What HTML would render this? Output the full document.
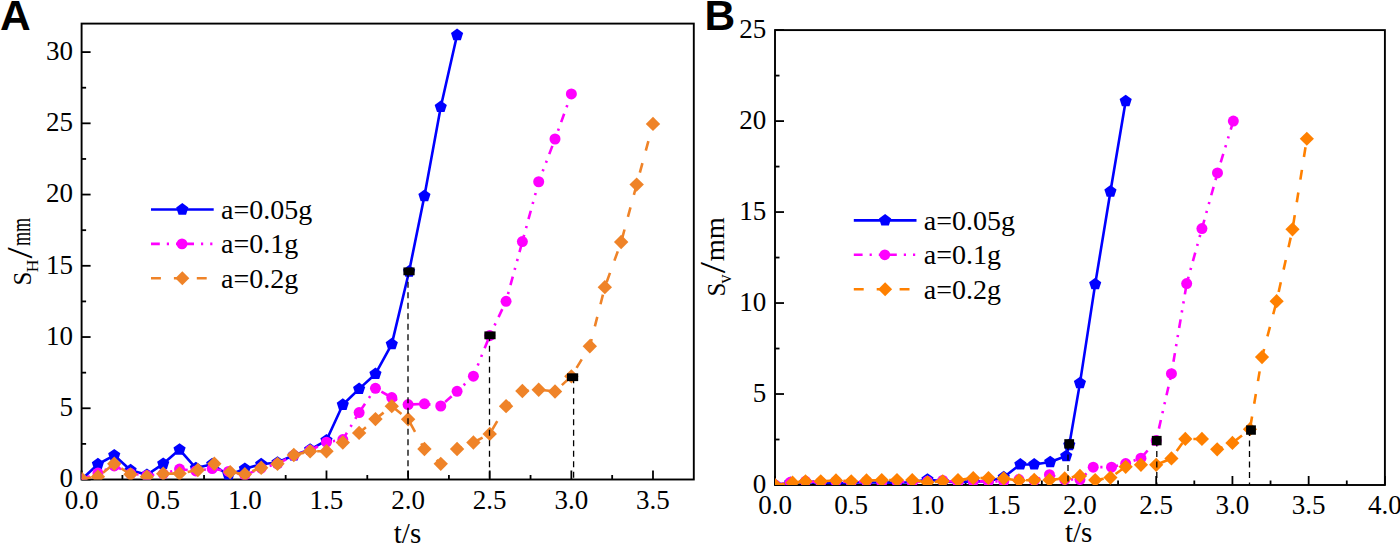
<!DOCTYPE html>
<html><head><meta charset="utf-8"><style>
html,body{margin:0;padding:0;background:#fff;width:1400px;height:543px;overflow:hidden}
svg{display:block}
.tk{font-family:"Liberation Serif",serif;font-size:27px;fill:#000}
.lg{font-family:"Liberation Serif",serif;font-size:28px;fill:#000}
.ti{font-family:"Liberation Serif",serif;font-size:29px;fill:#000}
.pl{font-family:"Liberation Sans",sans-serif;font-weight:bold;font-size:42.5px;fill:#000}
</style></head><body>
<svg width="1400" height="543" viewBox="0 0 1400 543">
<rect width="1400" height="543" fill="#fff"/>
<line x1="81.60" y1="479.5" x2="81.60" y2="470.5" stroke="#000" stroke-width="1.8"/>
<line x1="163.23" y1="479.5" x2="163.23" y2="470.5" stroke="#000" stroke-width="1.8"/>
<line x1="244.85" y1="479.5" x2="244.85" y2="470.5" stroke="#000" stroke-width="1.8"/>
<line x1="326.48" y1="479.5" x2="326.48" y2="470.5" stroke="#000" stroke-width="1.8"/>
<line x1="408.11" y1="479.5" x2="408.11" y2="470.5" stroke="#000" stroke-width="1.8"/>
<line x1="489.73" y1="479.5" x2="489.73" y2="470.5" stroke="#000" stroke-width="1.8"/>
<line x1="571.36" y1="479.5" x2="571.36" y2="470.5" stroke="#000" stroke-width="1.8"/>
<line x1="652.99" y1="479.5" x2="652.99" y2="470.5" stroke="#000" stroke-width="1.8"/>
<line x1="122.41" y1="479.5" x2="122.41" y2="475.0" stroke="#000" stroke-width="1.8"/>
<line x1="204.04" y1="479.5" x2="204.04" y2="475.0" stroke="#000" stroke-width="1.8"/>
<line x1="285.67" y1="479.5" x2="285.67" y2="475.0" stroke="#000" stroke-width="1.8"/>
<line x1="367.29" y1="479.5" x2="367.29" y2="475.0" stroke="#000" stroke-width="1.8"/>
<line x1="448.92" y1="479.5" x2="448.92" y2="475.0" stroke="#000" stroke-width="1.8"/>
<line x1="530.55" y1="479.5" x2="530.55" y2="475.0" stroke="#000" stroke-width="1.8"/>
<line x1="612.17" y1="479.5" x2="612.17" y2="475.0" stroke="#000" stroke-width="1.8"/>
<line x1="81.6" y1="479.50" x2="90.6" y2="479.50" stroke="#000" stroke-width="1.8"/>
<line x1="81.6" y1="408.27" x2="90.6" y2="408.27" stroke="#000" stroke-width="1.8"/>
<line x1="81.6" y1="337.03" x2="90.6" y2="337.03" stroke="#000" stroke-width="1.8"/>
<line x1="81.6" y1="265.80" x2="90.6" y2="265.80" stroke="#000" stroke-width="1.8"/>
<line x1="81.6" y1="194.56" x2="90.6" y2="194.56" stroke="#000" stroke-width="1.8"/>
<line x1="81.6" y1="123.33" x2="90.6" y2="123.33" stroke="#000" stroke-width="1.8"/>
<line x1="81.6" y1="52.09" x2="90.6" y2="52.09" stroke="#000" stroke-width="1.8"/>
<line x1="81.6" y1="443.88" x2="86.1" y2="443.88" stroke="#000" stroke-width="1.8"/>
<line x1="81.6" y1="372.65" x2="86.1" y2="372.65" stroke="#000" stroke-width="1.8"/>
<line x1="81.6" y1="301.41" x2="86.1" y2="301.41" stroke="#000" stroke-width="1.8"/>
<line x1="81.6" y1="230.18" x2="86.1" y2="230.18" stroke="#000" stroke-width="1.8"/>
<line x1="81.6" y1="158.95" x2="86.1" y2="158.95" stroke="#000" stroke-width="1.8"/>
<line x1="81.6" y1="87.71" x2="86.1" y2="87.71" stroke="#000" stroke-width="1.8"/>
<text x="81.60" y="508.70" text-anchor="middle" class="tk">0.0</text>
<text x="163.23" y="508.70" text-anchor="middle" class="tk">0.5</text>
<text x="244.85" y="508.70" text-anchor="middle" class="tk">1.0</text>
<text x="326.48" y="508.70" text-anchor="middle" class="tk">1.5</text>
<text x="408.11" y="508.70" text-anchor="middle" class="tk">2.0</text>
<text x="489.73" y="508.70" text-anchor="middle" class="tk">2.5</text>
<text x="571.36" y="508.70" text-anchor="middle" class="tk">3.0</text>
<text x="652.99" y="508.70" text-anchor="middle" class="tk">3.5</text>
<text x="72.90" y="487.30" text-anchor="end" class="tk">0</text>
<text x="72.90" y="416.07" text-anchor="end" class="tk">5</text>
<text x="72.90" y="344.83" text-anchor="end" class="tk">10</text>
<text x="72.90" y="273.60" text-anchor="end" class="tk">15</text>
<text x="72.90" y="202.36" text-anchor="end" class="tk">20</text>
<text x="72.90" y="131.13" text-anchor="end" class="tk">25</text>
<text x="72.90" y="59.89" text-anchor="end" class="tk">30</text>
<line x1="775.00" y1="485.0" x2="775.00" y2="476.0" stroke="#000" stroke-width="1.8"/>
<line x1="851.24" y1="485.0" x2="851.24" y2="476.0" stroke="#000" stroke-width="1.8"/>
<line x1="927.48" y1="485.0" x2="927.48" y2="476.0" stroke="#000" stroke-width="1.8"/>
<line x1="1003.71" y1="485.0" x2="1003.71" y2="476.0" stroke="#000" stroke-width="1.8"/>
<line x1="1079.95" y1="485.0" x2="1079.95" y2="476.0" stroke="#000" stroke-width="1.8"/>
<line x1="1156.19" y1="485.0" x2="1156.19" y2="476.0" stroke="#000" stroke-width="1.8"/>
<line x1="1232.43" y1="485.0" x2="1232.43" y2="476.0" stroke="#000" stroke-width="1.8"/>
<line x1="1308.66" y1="485.0" x2="1308.66" y2="476.0" stroke="#000" stroke-width="1.8"/>
<line x1="1384.90" y1="485.0" x2="1384.90" y2="476.0" stroke="#000" stroke-width="1.8"/>
<line x1="813.12" y1="485.0" x2="813.12" y2="480.5" stroke="#000" stroke-width="1.8"/>
<line x1="889.36" y1="485.0" x2="889.36" y2="480.5" stroke="#000" stroke-width="1.8"/>
<line x1="965.59" y1="485.0" x2="965.59" y2="480.5" stroke="#000" stroke-width="1.8"/>
<line x1="1041.83" y1="485.0" x2="1041.83" y2="480.5" stroke="#000" stroke-width="1.8"/>
<line x1="1118.07" y1="485.0" x2="1118.07" y2="480.5" stroke="#000" stroke-width="1.8"/>
<line x1="1194.31" y1="485.0" x2="1194.31" y2="480.5" stroke="#000" stroke-width="1.8"/>
<line x1="1270.54" y1="485.0" x2="1270.54" y2="480.5" stroke="#000" stroke-width="1.8"/>
<line x1="1346.78" y1="485.0" x2="1346.78" y2="480.5" stroke="#000" stroke-width="1.8"/>
<line x1="775.0" y1="485.00" x2="784.0" y2="485.00" stroke="#000" stroke-width="1.8"/>
<line x1="775.0" y1="394.02" x2="784.0" y2="394.02" stroke="#000" stroke-width="1.8"/>
<line x1="775.0" y1="303.04" x2="784.0" y2="303.04" stroke="#000" stroke-width="1.8"/>
<line x1="775.0" y1="212.06" x2="784.0" y2="212.06" stroke="#000" stroke-width="1.8"/>
<line x1="775.0" y1="121.08" x2="784.0" y2="121.08" stroke="#000" stroke-width="1.8"/>
<line x1="775.0" y1="30.10" x2="784.0" y2="30.10" stroke="#000" stroke-width="1.8"/>
<line x1="775.0" y1="439.51" x2="779.5" y2="439.51" stroke="#000" stroke-width="1.8"/>
<line x1="775.0" y1="348.53" x2="779.5" y2="348.53" stroke="#000" stroke-width="1.8"/>
<line x1="775.0" y1="257.55" x2="779.5" y2="257.55" stroke="#000" stroke-width="1.8"/>
<line x1="775.0" y1="166.57" x2="779.5" y2="166.57" stroke="#000" stroke-width="1.8"/>
<line x1="775.0" y1="75.59" x2="779.5" y2="75.59" stroke="#000" stroke-width="1.8"/>
<text x="775.00" y="514.20" text-anchor="middle" class="tk">0.0</text>
<text x="851.24" y="514.20" text-anchor="middle" class="tk">0.5</text>
<text x="927.48" y="514.20" text-anchor="middle" class="tk">1.0</text>
<text x="1003.71" y="514.20" text-anchor="middle" class="tk">1.5</text>
<text x="1079.95" y="514.20" text-anchor="middle" class="tk">2.0</text>
<text x="1156.19" y="514.20" text-anchor="middle" class="tk">2.5</text>
<text x="1232.43" y="514.20" text-anchor="middle" class="tk">3.0</text>
<text x="1308.66" y="514.20" text-anchor="middle" class="tk">3.5</text>
<text x="1384.90" y="514.20" text-anchor="middle" class="tk">4.0</text>
<text x="766.30" y="492.80" text-anchor="end" class="tk">0</text>
<text x="766.30" y="401.82" text-anchor="end" class="tk">5</text>
<text x="766.30" y="310.84" text-anchor="end" class="tk">10</text>
<text x="766.30" y="219.86" text-anchor="end" class="tk">15</text>
<text x="766.30" y="128.88" text-anchor="end" class="tk">20</text>
<text x="766.30" y="37.90" text-anchor="end" class="tk">25</text>
<rect x="81.6" y="23.6" width="612.20" height="455.90" fill="none" stroke="#000" stroke-width="1.9"/>
<clipPath id="clipA"><rect x="81.6" y="23.6" width="612.1999999999999" height="455.9"/></clipPath>
<g clip-path="url(#clipA)">
<polyline points="81.60,479.50 97.93,464.26 114.25,455.28 130.58,470.24 146.90,474.80 163.23,463.83 179.55,449.58 195.88,468.10 212.20,464.26 228.53,475.23 244.85,468.81 261.18,464.26 277.50,462.55 293.83,455.28 310.15,449.58 326.48,440.32 342.81,404.70 359.13,388.89 375.46,373.93 391.78,344.15 409.09,271.50 424.43,195.99 440.76,106.94 457.08,35.00" fill="none" stroke="#0000ff" stroke-width="2.6" stroke-linejoin="round"/>
<polygon points="81.60,473.10 87.69,477.52 85.36,484.68 77.84,484.68 75.51,477.52" fill="#0000ff"/>
<polygon points="97.93,457.86 104.01,462.28 101.69,469.43 94.16,469.43 91.84,462.28" fill="#0000ff"/>
<polygon points="114.25,448.88 120.34,453.30 118.01,460.46 110.49,460.46 108.16,453.30" fill="#0000ff"/>
<polygon points="130.58,463.84 136.66,468.26 134.34,475.42 126.81,475.42 124.49,468.26" fill="#0000ff"/>
<polygon points="146.90,468.40 152.99,472.82 150.66,479.98 143.14,479.98 140.81,472.82" fill="#0000ff"/>
<polygon points="163.23,457.43 169.31,461.85 166.99,469.01 159.46,469.01 157.14,461.85" fill="#0000ff"/>
<polygon points="179.55,443.18 185.64,447.60 183.31,454.76 175.79,454.76 173.47,447.60" fill="#0000ff"/>
<polygon points="195.88,461.70 201.96,466.12 199.64,473.28 192.12,473.28 189.79,466.12" fill="#0000ff"/>
<polygon points="212.20,457.86 218.29,462.28 215.96,469.43 208.44,469.43 206.12,462.28" fill="#0000ff"/>
<polygon points="228.53,468.83 234.61,473.25 232.29,480.40 224.77,480.40 222.44,473.25" fill="#0000ff"/>
<polygon points="244.85,462.41 250.94,466.84 248.62,473.99 241.09,473.99 238.77,466.84" fill="#0000ff"/>
<polygon points="261.18,457.86 267.27,462.28 264.94,469.43 257.42,469.43 255.09,462.28" fill="#0000ff"/>
<polygon points="277.50,456.15 283.59,460.57 281.27,467.72 273.74,467.72 271.42,460.57" fill="#0000ff"/>
<polygon points="293.83,448.88 299.92,453.30 297.59,460.46 290.07,460.46 287.74,453.30" fill="#0000ff"/>
<polygon points="310.15,443.18 316.24,447.60 313.92,454.76 306.39,454.76 304.07,447.60" fill="#0000ff"/>
<polygon points="326.48,433.92 332.57,438.34 330.24,445.50 322.72,445.50 320.39,438.34" fill="#0000ff"/>
<polygon points="342.81,398.30 348.89,402.73 346.57,409.88 339.04,409.88 336.72,402.73" fill="#0000ff"/>
<polygon points="359.13,382.49 365.22,386.91 362.89,394.07 355.37,394.07 353.04,386.91" fill="#0000ff"/>
<polygon points="375.46,367.53 381.54,371.95 379.22,379.11 371.69,379.11 369.37,371.95" fill="#0000ff"/>
<polygon points="391.78,337.75 397.87,342.18 395.54,349.33 388.02,349.33 385.69,342.18" fill="#0000ff"/>
<polygon points="409.09,265.10 415.17,269.52 412.85,276.67 405.32,276.67 403.00,269.52" fill="#0000ff"/>
<polygon points="424.43,189.59 430.52,194.01 428.19,201.16 420.67,201.16 418.35,194.01" fill="#0000ff"/>
<polygon points="440.76,100.54 446.84,104.97 444.52,112.12 437.00,112.12 434.67,104.97" fill="#0000ff"/>
<polygon points="457.08,28.60 463.17,33.02 460.84,40.18 453.32,40.18 451.00,33.02" fill="#0000ff"/>
<polyline points="81.60,479.50 97.93,473.09 114.25,465.97 130.58,473.52 146.90,475.51 163.23,473.80 179.55,469.10 195.88,470.95 212.20,468.53 228.53,471.38 244.85,475.23 261.18,468.10 277.50,463.83 293.83,455.28 310.15,450.29 326.48,442.17 342.81,439.61 359.13,412.54 375.46,388.32 391.78,397.58 408.11,404.56 424.43,403.85 440.76,405.99 457.08,391.31 473.41,376.21 489.73,335.61 506.06,301.27 522.38,241.58 538.71,181.74 555.03,139.00 571.36,93.98" fill="none" stroke="#ff00ff" stroke-width="2.6" stroke-dasharray="8.8 7 2.2 7 2.2 7"/>
<circle cx="81.60" cy="479.50" r="5.5" fill="#ff00ff"/>
<circle cx="97.93" cy="473.09" r="5.5" fill="#ff00ff"/>
<circle cx="114.25" cy="465.97" r="5.5" fill="#ff00ff"/>
<circle cx="130.58" cy="473.52" r="5.5" fill="#ff00ff"/>
<circle cx="146.90" cy="475.51" r="5.5" fill="#ff00ff"/>
<circle cx="163.23" cy="473.80" r="5.5" fill="#ff00ff"/>
<circle cx="179.55" cy="469.10" r="5.5" fill="#ff00ff"/>
<circle cx="195.88" cy="470.95" r="5.5" fill="#ff00ff"/>
<circle cx="212.20" cy="468.53" r="5.5" fill="#ff00ff"/>
<circle cx="228.53" cy="471.38" r="5.5" fill="#ff00ff"/>
<circle cx="244.85" cy="475.23" r="5.5" fill="#ff00ff"/>
<circle cx="261.18" cy="468.10" r="5.5" fill="#ff00ff"/>
<circle cx="277.50" cy="463.83" r="5.5" fill="#ff00ff"/>
<circle cx="293.83" cy="455.28" r="5.5" fill="#ff00ff"/>
<circle cx="310.15" cy="450.29" r="5.5" fill="#ff00ff"/>
<circle cx="326.48" cy="442.17" r="5.5" fill="#ff00ff"/>
<circle cx="342.81" cy="439.61" r="5.5" fill="#ff00ff"/>
<circle cx="359.13" cy="412.54" r="5.5" fill="#ff00ff"/>
<circle cx="375.46" cy="388.32" r="5.5" fill="#ff00ff"/>
<circle cx="391.78" cy="397.58" r="5.5" fill="#ff00ff"/>
<circle cx="408.11" cy="404.56" r="5.5" fill="#ff00ff"/>
<circle cx="424.43" cy="403.85" r="5.5" fill="#ff00ff"/>
<circle cx="440.76" cy="405.99" r="5.5" fill="#ff00ff"/>
<circle cx="457.08" cy="391.31" r="5.5" fill="#ff00ff"/>
<circle cx="473.41" cy="376.21" r="5.5" fill="#ff00ff"/>
<circle cx="489.73" cy="335.61" r="5.5" fill="#ff00ff"/>
<circle cx="506.06" cy="301.27" r="5.5" fill="#ff00ff"/>
<circle cx="522.38" cy="241.58" r="5.5" fill="#ff00ff"/>
<circle cx="538.71" cy="181.74" r="5.5" fill="#ff00ff"/>
<circle cx="555.03" cy="139.00" r="5.5" fill="#ff00ff"/>
<circle cx="571.36" cy="93.98" r="5.5" fill="#ff00ff"/>
<polyline points="81.60,478.79 97.93,476.65 114.25,463.69 130.58,474.37 146.90,476.65 163.23,473.80 179.55,473.52 197.84,469.95 214.32,463.69 230.16,472.09 244.85,474.23 261.18,467.68 277.50,463.83 293.83,455.00 310.15,451.29 326.48,451.29 342.81,442.46 359.13,432.91 375.46,419.09 391.78,406.13 408.11,419.24 424.43,449.01 440.76,463.83 457.08,449.01 473.41,442.46 489.73,433.91 506.06,406.13 522.38,391.03 538.71,389.74 555.03,391.45 571.36,376.35 589.81,346.29 604.83,287.17 621.15,242.00 636.66,184.59 652.99,123.90" fill="none" stroke="#ef8328" stroke-width="2.6" stroke-dasharray="9.9 13"/>
<polygon points="81.60,471.59 88.80,478.79 81.60,485.99 74.40,478.79" fill="#ef8328"/>
<polygon points="97.93,469.45 105.13,476.65 97.93,483.85 90.73,476.65" fill="#ef8328"/>
<polygon points="114.25,456.49 121.45,463.69 114.25,470.89 107.05,463.69" fill="#ef8328"/>
<polygon points="130.58,467.17 137.78,474.37 130.58,481.57 123.38,474.37" fill="#ef8328"/>
<polygon points="146.90,469.45 154.10,476.65 146.90,483.85 139.70,476.65" fill="#ef8328"/>
<polygon points="163.23,466.60 170.43,473.80 163.23,481.00 156.03,473.80" fill="#ef8328"/>
<polygon points="179.55,466.32 186.75,473.52 179.55,480.72 172.35,473.52" fill="#ef8328"/>
<polygon points="197.84,462.75 205.04,469.95 197.84,477.15 190.64,469.95" fill="#ef8328"/>
<polygon points="214.32,456.49 221.52,463.69 214.32,470.89 207.12,463.69" fill="#ef8328"/>
<polygon points="230.16,464.89 237.36,472.09 230.16,479.29 222.96,472.09" fill="#ef8328"/>
<polygon points="244.85,467.03 252.05,474.23 244.85,481.43 237.65,474.23" fill="#ef8328"/>
<polygon points="261.18,460.48 268.38,467.68 261.18,474.88 253.98,467.68" fill="#ef8328"/>
<polygon points="277.50,456.63 284.70,463.83 277.50,471.03 270.30,463.83" fill="#ef8328"/>
<polygon points="293.83,447.80 301.03,455.00 293.83,462.20 286.63,455.00" fill="#ef8328"/>
<polygon points="310.15,444.09 317.35,451.29 310.15,458.49 302.95,451.29" fill="#ef8328"/>
<polygon points="326.48,444.09 333.68,451.29 326.48,458.49 319.28,451.29" fill="#ef8328"/>
<polygon points="342.81,435.26 350.01,442.46 342.81,449.66 335.61,442.46" fill="#ef8328"/>
<polygon points="359.13,425.71 366.33,432.91 359.13,440.11 351.93,432.91" fill="#ef8328"/>
<polygon points="375.46,411.89 382.66,419.09 375.46,426.29 368.26,419.09" fill="#ef8328"/>
<polygon points="391.78,398.93 398.98,406.13 391.78,413.33 384.58,406.13" fill="#ef8328"/>
<polygon points="408.11,412.04 415.31,419.24 408.11,426.44 400.91,419.24" fill="#ef8328"/>
<polygon points="424.43,441.81 431.63,449.01 424.43,456.21 417.23,449.01" fill="#ef8328"/>
<polygon points="440.76,456.63 447.96,463.83 440.76,471.03 433.56,463.83" fill="#ef8328"/>
<polygon points="457.08,441.81 464.28,449.01 457.08,456.21 449.88,449.01" fill="#ef8328"/>
<polygon points="473.41,435.26 480.61,442.46 473.41,449.66 466.21,442.46" fill="#ef8328"/>
<polygon points="489.73,426.71 496.93,433.91 489.73,441.11 482.53,433.91" fill="#ef8328"/>
<polygon points="506.06,398.93 513.26,406.13 506.06,413.33 498.86,406.13" fill="#ef8328"/>
<polygon points="522.38,383.83 529.58,391.03 522.38,398.23 515.18,391.03" fill="#ef8328"/>
<polygon points="538.71,382.54 545.91,389.74 538.71,396.94 531.51,389.74" fill="#ef8328"/>
<polygon points="555.03,384.25 562.23,391.45 555.03,398.65 547.83,391.45" fill="#ef8328"/>
<polygon points="571.36,369.15 578.56,376.35 571.36,383.55 564.16,376.35" fill="#ef8328"/>
<polygon points="589.81,339.09 597.01,346.29 589.81,353.49 582.61,346.29" fill="#ef8328"/>
<polygon points="604.83,279.97 612.03,287.17 604.83,294.37 597.63,287.17" fill="#ef8328"/>
<polygon points="621.15,234.80 628.35,242.00 621.15,249.20 613.95,242.00" fill="#ef8328"/>
<polygon points="636.66,177.39 643.86,184.59 636.66,191.79 629.46,184.59" fill="#ef8328"/>
<polygon points="652.99,116.70 660.19,123.90 652.99,131.10 645.79,123.90" fill="#ef8328"/>
<line x1="408.0" y1="271.35" x2="408.0" y2="479.5" stroke="#000" stroke-width="1.3" stroke-dasharray="6 4.5"/>
<line x1="489.5" y1="335.32" x2="489.5" y2="479.5" stroke="#000" stroke-width="1.3" stroke-dasharray="6 4.5"/>
<line x1="573.6" y1="377.21" x2="573.6" y2="479.5" stroke="#000" stroke-width="1.3" stroke-dasharray="6 4.5"/>
<rect x="403.40" y="267.45" width="11.2" height="7.8" fill="#000"/>
<rect x="484.39" y="331.42" width="11.2" height="7.8" fill="#000"/>
<rect x="566.98" y="373.31" width="11.2" height="7.8" fill="#000"/>
</g>
<rect x="775.0" y="30.1" width="609.90" height="454.90" fill="none" stroke="#000" stroke-width="1.9"/>
<clipPath id="clipB"><rect x="775.0" y="30.1" width="609.9000000000001" height="454.9"/></clipPath>
<g clip-path="url(#clipB)">
<polyline points="775.00,485.00 790.25,482.82 805.50,482.27 820.74,482.82 835.99,483.18 851.24,482.82 866.49,482.27 881.73,482.82 896.98,482.82 912.23,482.27 927.48,479.54 942.72,481.36 957.97,482.27 973.22,481.36 988.47,481.36 1003.71,477.18 1020.33,464.44 1034.21,464.44 1050.22,462.07 1066.23,456.07 1069.28,444.97 1079.95,383.10 1095.20,284.12 1110.45,191.50 1125.69,101.06" fill="none" stroke="#0000ff" stroke-width="2.6" stroke-linejoin="round"/>
<polygon points="775.00,478.60 781.09,483.02 778.76,490.18 771.24,490.18 768.91,483.02" fill="#0000ff"/>
<polygon points="790.25,476.42 796.33,480.84 794.01,487.99 786.49,487.99 784.16,480.84" fill="#0000ff"/>
<polygon points="805.50,475.87 811.58,480.29 809.26,487.45 801.73,487.45 799.41,480.29" fill="#0000ff"/>
<polygon points="820.74,476.42 826.83,480.84 824.50,487.99 816.98,487.99 814.66,480.84" fill="#0000ff"/>
<polygon points="835.99,476.78 842.08,481.20 839.75,488.36 832.23,488.36 829.90,481.20" fill="#0000ff"/>
<polygon points="851.24,476.42 857.32,480.84 855.00,487.99 847.48,487.99 845.15,480.84" fill="#0000ff"/>
<polygon points="866.49,475.87 872.57,480.29 870.25,487.45 862.72,487.45 860.40,480.29" fill="#0000ff"/>
<polygon points="881.73,476.42 887.82,480.84 885.49,487.99 877.97,487.99 875.65,480.84" fill="#0000ff"/>
<polygon points="896.98,476.42 903.07,480.84 900.74,487.99 893.22,487.99 890.89,480.84" fill="#0000ff"/>
<polygon points="912.23,475.87 918.31,480.29 915.99,487.45 908.47,487.45 906.14,480.29" fill="#0000ff"/>
<polygon points="927.48,473.14 933.56,477.56 931.24,484.72 923.71,484.72 921.39,477.56" fill="#0000ff"/>
<polygon points="942.72,474.96 948.81,479.38 946.48,486.54 938.96,486.54 936.64,479.38" fill="#0000ff"/>
<polygon points="957.97,475.87 964.06,480.29 961.73,487.45 954.21,487.45 951.88,480.29" fill="#0000ff"/>
<polygon points="973.22,474.96 979.30,479.38 976.98,486.54 969.46,486.54 967.13,479.38" fill="#0000ff"/>
<polygon points="988.47,474.96 994.55,479.38 992.23,486.54 984.70,486.54 982.38,479.38" fill="#0000ff"/>
<polygon points="1003.71,470.78 1009.80,475.20 1007.47,482.35 999.95,482.35 997.63,475.20" fill="#0000ff"/>
<polygon points="1020.33,458.04 1026.42,462.46 1024.09,469.62 1016.57,469.62 1014.25,462.46" fill="#0000ff"/>
<polygon points="1034.21,458.04 1040.29,462.46 1037.97,469.62 1030.45,469.62 1028.12,462.46" fill="#0000ff"/>
<polygon points="1050.22,455.67 1056.30,460.10 1053.98,467.25 1046.46,467.25 1044.13,460.10" fill="#0000ff"/>
<polygon points="1066.23,449.67 1072.31,454.09 1069.99,461.25 1062.47,461.25 1060.14,454.09" fill="#0000ff"/>
<polygon points="1069.28,438.57 1075.36,442.99 1073.04,450.15 1065.51,450.15 1063.19,442.99" fill="#0000ff"/>
<polygon points="1079.95,376.70 1086.04,381.12 1083.71,388.28 1076.19,388.28 1073.86,381.12" fill="#0000ff"/>
<polygon points="1095.20,277.72 1101.28,282.14 1098.96,289.29 1091.44,289.29 1089.11,282.14" fill="#0000ff"/>
<polygon points="1110.45,185.10 1116.53,189.52 1114.21,196.68 1106.68,196.68 1104.36,189.52" fill="#0000ff"/>
<polygon points="1125.69,94.66 1131.78,99.09 1129.45,106.24 1121.93,106.24 1119.61,99.09" fill="#0000ff"/>
<polyline points="775.00,485.00 790.25,482.27 805.50,481.36 820.74,482.27 835.99,481.36 851.24,482.27 866.49,481.36 881.73,482.27 896.98,481.36 912.23,482.27 927.48,481.36 942.72,480.45 957.97,482.27 973.22,481.36 988.47,481.36 1003.71,481.36 1018.96,479.54 1034.21,480.45 1049.45,474.63 1064.70,479.54 1079.95,479.54 1093.22,467.17 1111.51,467.17 1125.69,463.53 1140.94,458.25 1156.19,440.60 1171.43,373.64 1186.68,283.57 1201.93,228.62 1217.48,172.94 1233.34,121.08" fill="none" stroke="#ff00ff" stroke-width="2.6" stroke-dasharray="8.8 7 2.2 7 2.2 7"/>
<circle cx="775.00" cy="485.00" r="5.5" fill="#ff00ff"/>
<circle cx="790.25" cy="482.27" r="5.5" fill="#ff00ff"/>
<circle cx="805.50" cy="481.36" r="5.5" fill="#ff00ff"/>
<circle cx="820.74" cy="482.27" r="5.5" fill="#ff00ff"/>
<circle cx="835.99" cy="481.36" r="5.5" fill="#ff00ff"/>
<circle cx="851.24" cy="482.27" r="5.5" fill="#ff00ff"/>
<circle cx="866.49" cy="481.36" r="5.5" fill="#ff00ff"/>
<circle cx="881.73" cy="482.27" r="5.5" fill="#ff00ff"/>
<circle cx="896.98" cy="481.36" r="5.5" fill="#ff00ff"/>
<circle cx="912.23" cy="482.27" r="5.5" fill="#ff00ff"/>
<circle cx="927.48" cy="481.36" r="5.5" fill="#ff00ff"/>
<circle cx="942.72" cy="480.45" r="5.5" fill="#ff00ff"/>
<circle cx="957.97" cy="482.27" r="5.5" fill="#ff00ff"/>
<circle cx="973.22" cy="481.36" r="5.5" fill="#ff00ff"/>
<circle cx="988.47" cy="481.36" r="5.5" fill="#ff00ff"/>
<circle cx="1003.71" cy="481.36" r="5.5" fill="#ff00ff"/>
<circle cx="1018.96" cy="479.54" r="5.5" fill="#ff00ff"/>
<circle cx="1034.21" cy="480.45" r="5.5" fill="#ff00ff"/>
<circle cx="1049.45" cy="474.63" r="5.5" fill="#ff00ff"/>
<circle cx="1064.70" cy="479.54" r="5.5" fill="#ff00ff"/>
<circle cx="1079.95" cy="479.54" r="5.5" fill="#ff00ff"/>
<circle cx="1093.22" cy="467.17" r="5.5" fill="#ff00ff"/>
<circle cx="1111.51" cy="467.17" r="5.5" fill="#ff00ff"/>
<circle cx="1125.69" cy="463.53" r="5.5" fill="#ff00ff"/>
<circle cx="1140.94" cy="458.25" r="5.5" fill="#ff00ff"/>
<circle cx="1156.19" cy="440.60" r="5.5" fill="#ff00ff"/>
<circle cx="1171.43" cy="373.64" r="5.5" fill="#ff00ff"/>
<circle cx="1186.68" cy="283.57" r="5.5" fill="#ff00ff"/>
<circle cx="1201.93" cy="228.62" r="5.5" fill="#ff00ff"/>
<circle cx="1217.48" cy="172.94" r="5.5" fill="#ff00ff"/>
<circle cx="1233.34" cy="121.08" r="5.5" fill="#ff00ff"/>
<polyline points="775.00,485.00 792.53,482.63 805.50,481.36 820.74,481.36 835.99,480.45 851.24,481.36 866.49,480.45 881.73,480.09 896.98,480.09 912.23,480.09 927.48,482.27 942.72,481.36 957.97,480.09 973.22,478.09 988.47,478.09 1003.71,478.45 1018.96,480.45 1034.21,479.91 1049.45,479.91 1064.70,478.45 1079.95,475.90 1095.20,480.09 1110.45,477.54 1125.69,466.80 1140.94,464.80 1156.19,464.80 1171.43,458.43 1185.31,438.96 1201.93,438.96 1217.18,449.34 1232.43,442.97 1249.96,429.14 1262.01,357.08 1276.64,301.22 1292.50,229.35 1306.83,138.73" fill="none" stroke="#ff8000" stroke-width="2.6" stroke-dasharray="9.9 13"/>
<polygon points="775.00,477.90 782.10,485.00 775.00,492.10 767.90,485.00" fill="#ff8000"/>
<polygon points="792.53,475.53 799.63,482.63 792.53,489.73 785.43,482.63" fill="#ff8000"/>
<polygon points="805.50,474.26 812.60,481.36 805.50,488.46 798.39,481.36" fill="#ff8000"/>
<polygon points="820.74,474.26 827.84,481.36 820.74,488.46 813.64,481.36" fill="#ff8000"/>
<polygon points="835.99,473.35 843.09,480.45 835.99,487.55 828.89,480.45" fill="#ff8000"/>
<polygon points="851.24,474.26 858.34,481.36 851.24,488.46 844.14,481.36" fill="#ff8000"/>
<polygon points="866.49,473.35 873.59,480.45 866.49,487.55 859.38,480.45" fill="#ff8000"/>
<polygon points="881.73,472.99 888.83,480.09 881.73,487.19 874.63,480.09" fill="#ff8000"/>
<polygon points="896.98,472.99 904.08,480.09 896.98,487.19 889.88,480.09" fill="#ff8000"/>
<polygon points="912.23,472.99 919.33,480.09 912.23,487.19 905.13,480.09" fill="#ff8000"/>
<polygon points="927.48,475.17 934.58,482.27 927.48,489.37 920.38,482.27" fill="#ff8000"/>
<polygon points="942.72,474.26 949.82,481.36 942.72,488.46 935.62,481.36" fill="#ff8000"/>
<polygon points="957.97,472.99 965.07,480.09 957.97,487.19 950.87,480.09" fill="#ff8000"/>
<polygon points="973.22,470.99 980.32,478.09 973.22,485.19 966.12,478.09" fill="#ff8000"/>
<polygon points="988.47,470.99 995.57,478.09 988.47,485.19 981.37,478.09" fill="#ff8000"/>
<polygon points="1003.71,471.35 1010.81,478.45 1003.71,485.55 996.61,478.45" fill="#ff8000"/>
<polygon points="1018.96,473.35 1026.06,480.45 1018.96,487.55 1011.86,480.45" fill="#ff8000"/>
<polygon points="1034.21,472.81 1041.31,479.91 1034.21,487.01 1027.11,479.91" fill="#ff8000"/>
<polygon points="1049.45,472.81 1056.55,479.91 1049.45,487.01 1042.36,479.91" fill="#ff8000"/>
<polygon points="1064.70,471.35 1071.80,478.45 1064.70,485.55 1057.60,478.45" fill="#ff8000"/>
<polygon points="1079.95,468.80 1087.05,475.90 1079.95,483.00 1072.85,475.90" fill="#ff8000"/>
<polygon points="1095.20,472.99 1102.30,480.09 1095.20,487.19 1088.10,480.09" fill="#ff8000"/>
<polygon points="1110.45,470.44 1117.55,477.54 1110.45,484.64 1103.35,477.54" fill="#ff8000"/>
<polygon points="1125.69,459.70 1132.79,466.80 1125.69,473.90 1118.59,466.80" fill="#ff8000"/>
<polygon points="1140.94,457.70 1148.04,464.80 1140.94,471.90 1133.84,464.80" fill="#ff8000"/>
<polygon points="1156.19,457.70 1163.29,464.80 1156.19,471.90 1149.09,464.80" fill="#ff8000"/>
<polygon points="1171.43,451.33 1178.53,458.43 1171.43,465.53 1164.34,458.43" fill="#ff8000"/>
<polygon points="1185.31,431.86 1192.41,438.96 1185.31,446.06 1178.21,438.96" fill="#ff8000"/>
<polygon points="1201.93,431.86 1209.03,438.96 1201.93,446.06 1194.83,438.96" fill="#ff8000"/>
<polygon points="1217.18,442.24 1224.28,449.34 1217.18,456.44 1210.08,449.34" fill="#ff8000"/>
<polygon points="1232.43,435.87 1239.53,442.97 1232.43,450.07 1225.33,442.97" fill="#ff8000"/>
<polygon points="1249.96,422.04 1257.06,429.14 1249.96,436.24 1242.86,429.14" fill="#ff8000"/>
<polygon points="1262.01,349.98 1269.11,357.08 1262.01,364.18 1254.91,357.08" fill="#ff8000"/>
<polygon points="1276.64,294.12 1283.74,301.22 1276.64,308.32 1269.54,301.22" fill="#ff8000"/>
<polygon points="1292.50,222.25 1299.60,229.35 1292.50,236.45 1285.40,229.35" fill="#ff8000"/>
<polygon points="1306.83,131.63 1313.93,138.73 1306.83,145.83 1299.73,138.73" fill="#ff8000"/>
<line x1="1068.0" y1="443.88" x2="1068.0" y2="485.0" stroke="#000" stroke-width="1.3" stroke-dasharray="6 4.5"/>
<line x1="1156.8" y1="440.60" x2="1156.8" y2="485.0" stroke="#000" stroke-width="1.3" stroke-dasharray="6 4.5"/>
<line x1="1249.5" y1="430.05" x2="1249.5" y2="485.0" stroke="#000" stroke-width="1.3" stroke-dasharray="6 4.5"/>
<rect x="1064.30" y="439.18" width="9.8" height="9.4" fill="#000"/>
<rect x="1151.84" y="435.90" width="9.8" height="9.4" fill="#000"/>
<rect x="1246.10" y="425.35" width="9.8" height="9.4" fill="#000"/>
</g>
<line x1="151" y1="209.5" x2="213.7" y2="209.5" stroke="#0000ff" stroke-width="2.6"/>
<polygon points="182.30,203.10 188.39,207.52 186.06,214.68 178.54,214.68 176.21,207.52" fill="#0000ff"/>
<line x1="151" y1="243.9" x2="213.7" y2="243.9" stroke="#ff00ff" stroke-width="2.6" stroke-dasharray="8.8 7 2.2 7 2.2 7"/>
<circle cx="182.00" cy="243.90" r="5.4" fill="#ff00ff"/>
<line x1="151" y1="278.3" x2="213.7" y2="278.3" stroke="#ef8328" stroke-width="2.6" stroke-dasharray="9.9 13"/>
<polygon points="182.30,271.30 189.30,278.30 182.30,285.30 175.30,278.30" fill="#ef8328"/>
<text x="221" y="219.00" class="lg">a=0.05g</text>
<text x="221" y="253.40" class="lg">a=0.1g</text>
<text x="221" y="287.80" class="lg">a=0.2g</text>
<line x1="853.8" y1="220.4" x2="916.5" y2="220.4" stroke="#0000ff" stroke-width="2.6"/>
<polygon points="885.10,214.00 891.19,218.42 888.86,225.58 881.34,225.58 879.01,218.42" fill="#0000ff"/>
<line x1="853.8" y1="254.8" x2="916.5" y2="254.8" stroke="#ff00ff" stroke-width="2.6" stroke-dasharray="8.8 7 2.2 7 2.2 7"/>
<circle cx="884.80" cy="254.80" r="5.4" fill="#ff00ff"/>
<line x1="853.8" y1="289.2" x2="916.5" y2="289.2" stroke="#ff8000" stroke-width="2.6" stroke-dasharray="9.9 13"/>
<polygon points="885.10,282.20 892.10,289.20 885.10,296.20 878.10,289.20" fill="#ff8000"/>
<text x="923.8" y="229.90" class="lg">a=0.05g</text>
<text x="923.8" y="264.30" class="lg">a=0.1g</text>
<text x="923.8" y="298.70" class="lg">a=0.2g</text>
<text x="407.5" y="542.7" text-anchor="middle" class="ti">t/s</text>
<text x="1078.6" y="542.2" text-anchor="middle" class="ti">t/s</text>
<text transform="translate(30.6,285.5) rotate(-90) scale(1.0,1)" x="0" y="0" style="font-family:'Liberation Serif',serif;font-size:25px">S</text>
<text transform="translate(38.0,272.3) rotate(-90) scale(1.0,1)" x="0" y="0" style="font-family:'Liberation Serif',serif;font-size:17.5px">H</text>
<text transform="translate(31.8,258.4) rotate(-90) scale(1.15,1)" x="0" y="0" style="font-family:'Liberation Serif',serif;font-size:35px">/</text>
<text transform="translate(30.2,246.0) rotate(-90) scale(0.668,1)" x="0" y="0" style="font-family:'Liberation Serif',serif;font-size:27px">mm</text>
<text transform="translate(724.5,296.5) rotate(-90) scale(1.0,1)" x="0" y="0" style="font-family:'Liberation Serif',serif;font-size:25px">S</text>
<text transform="translate(731.3,283.6) rotate(-90) scale(1.0,1)" x="0" y="0" style="font-family:'Liberation Serif',serif;font-size:18px">v</text>
<text transform="translate(725.3,273.2) rotate(-90) scale(1.15,1)" x="0" y="0" style="font-family:'Liberation Serif',serif;font-size:35px">/</text>
<text transform="translate(723.9,261.3) rotate(-90) scale(1.05,1)" x="0" y="0" style="font-family:'Liberation Serif',serif;font-size:27px">mm</text>
<text x="-0.1" y="29.8" class="pl">A</text>
<text x="704.4" y="29.8" class="pl">B</text>
</svg></body></html>
